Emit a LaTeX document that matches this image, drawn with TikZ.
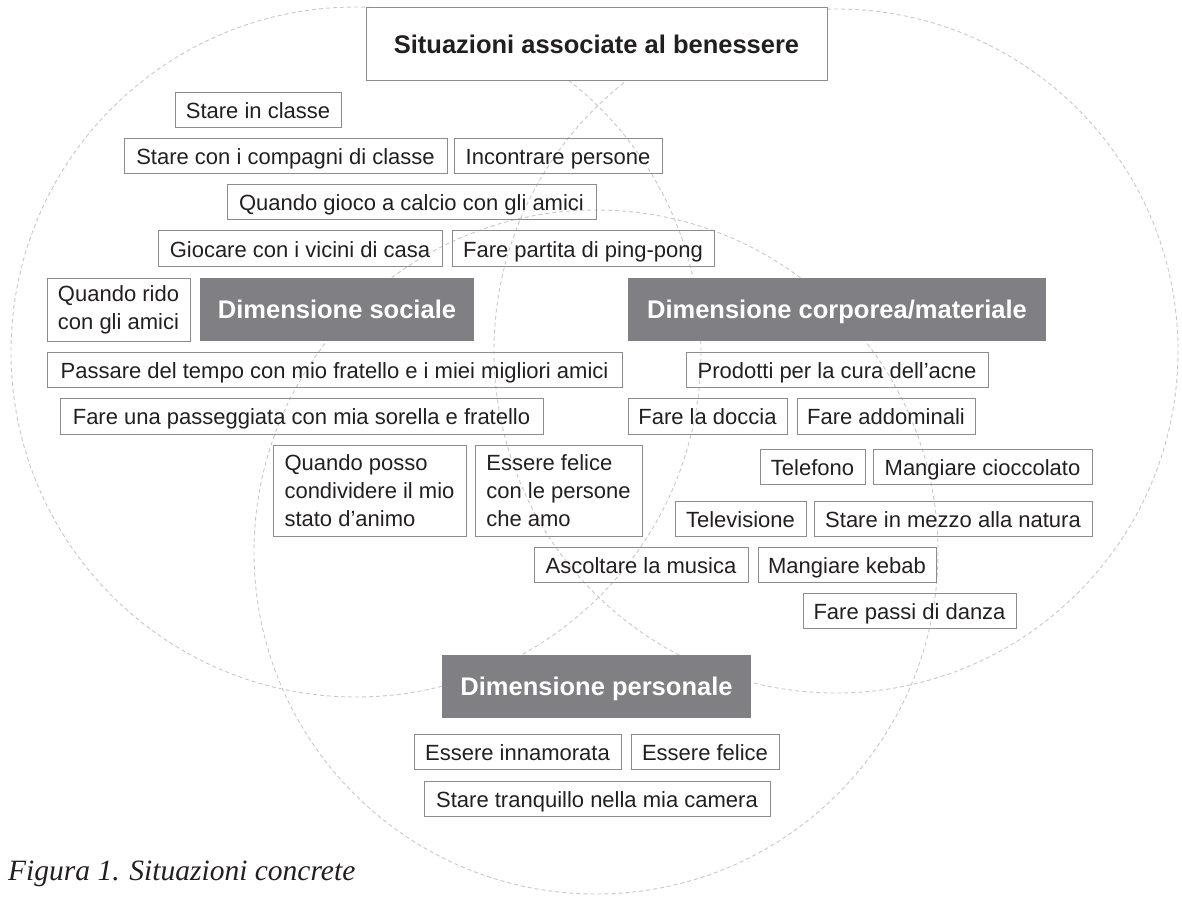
\documentclass[tikz,border=0pt]{standalone}
\usepackage{fontspec}
\setmainfont{Liberation Sans}
\newfontfamily\capfont{Liberation Serif}
\definecolor{txt}{RGB}{35,31,32}
\definecolor{bordergray}{RGB}{140,140,140}
\definecolor{darkfill}{RGB}{128,128,132}
\definecolor{circlegray}{RGB}{200,200,200}
\begin{document}
\begin{tikzpicture}[x=1pt,y=-1pt,
  venn/.style={draw=circlegray, line width=0.9pt, dash pattern=on 4pt off 3pt},
  item/.style={draw=bordergray, line width=1pt, inner sep=0pt, text=txt,
    font=\fontsize{22}{28}\selectfont, minimum height=35pt,
    text height=17pt, text depth=0pt},
  multi/.style={draw=bordergray, line width=1pt, inner sep=0pt, text=txt,
    font=\fontsize{22}{28}\selectfont, align=left},
  dim/.style={fill=darkfill, inner sep=0pt, text=white,
    font=\bfseries\fontsize{25.5}{30}\selectfont, minimum height=63pt,
    text height=18.5pt, text depth=0pt},
  titlebox/.style={draw=bordergray, fill=white, line width=1pt, inner sep=0pt,
    text=txt, font=\bfseries\fontsize{25.5}{30}\selectfont,
    text height=18.5pt, text depth=0pt},
  caption/.style={text=txt, inner sep=0pt, anchor=base west,
    font=\capfont\itshape\fontsize{29.5}{34}\selectfont}
]
\useasboundingbox (0,0) rectangle (1182,901);

% three dashed circles
\draw[venn] (356,352) circle[radius=345];
\draw[venn] (836,351) circle[radius=342];
\draw[venn] (596,552) circle[radius=342];

% title
\node[titlebox, minimum width=461pt, minimum height=73pt] (title) at (596.5,44.5) {Situazioni associate al benessere};

% dimension boxes
\node[dim, minimum width=274pt] (sociale) at (337,309.5) {Dimensione sociale};
\node[dim, minimum width=418pt] (corporea) at (837,309.5) {Dimensione corporea/materiale};
\node[dim, minimum width=309pt] (personale) at (596.5,686.5) {Dimensione personale};

% social items
\node[item, minimum width=166pt] (classe) at (258,110.5) {Stare in classe};
\node[item, minimum width=323pt] (compagni) at (285.5,156) {Stare con i compagni di classe};
\node[item, minimum width=208pt] (incontrare) at (558,156) {Incontrare persone};
\node[item, minimum width=369pt] (calcio) at (411.5,202.5) {Quando gioco a calcio con gli amici};
\node[item, minimum width=284pt] (vicini) at (300,248.5) {Giocare con i vicini di casa};
\node[item, minimum width=262pt] (ping) at (583,248.5) {Fare partita di ping-pong};
\node[multi, minimum width=143pt, minimum height=63pt] (rido) at (118.5,310) {Quando rido\\con gli amici};
\node[item, minimum width=575pt] (passare) at (334.5,369.5) {Passare del tempo con mio fratello e i miei migliori amici};
\node[item, minimum width=483pt, minimum height=36pt] (passeggiata) at (301.5,416) {Fare una passeggiata con mia sorella e fratello};
\node[multi, minimum width=193pt, minimum height=91pt] (condividere) at (369.5,490.5) {Quando posso\\condividere il mio\\stato d’animo};
\node[multi, minimum width=167pt, minimum height=91pt] (felicecon) at (558.5,490.5) {Essere felice\\con le persone\\che amo};
\node[item, minimum width=214pt] (musica) at (641,564.5) {Ascoltare la musica};

% body/material items
\node[item, minimum width=302pt] (acne) at (837,369.5) {Prodotti per la cura dell’acne};
\node[item, minimum width=159pt, minimum height=36pt] (doccia) at (707.5,416) {Fare la doccia};
\node[item, minimum width=178pt, minimum height=36pt] (addominali) at (886,416) {Fare addominali};
\node[item, minimum width=105pt] (telefono) at (812.5,466.5) {Telefono};
\node[item, minimum width=219pt] (cioccolato) at (982.5,466.5) {Mangiare cioccolato};
\node[item, minimum width=131pt] (televisione) at (740.5,518.5) {Televisione};
\node[item, minimum width=278pt] (natura) at (953,518.5) {Stare in mezzo alla natura};
\node[item, minimum width=178pt] (kebab) at (847,564.5) {Mangiare kebab};
\node[item, minimum width=213pt] (danza) at (909.5,610.5) {Fare passi di danza};

% personal items
\node[item, minimum width=207pt] (innamorata) at (517.5,751.5) {Essere innamorata};
\node[item, minimum width=148pt] (felice) at (705,751.5) {Essere felice};
\node[item, minimum width=346pt] (tranquillo) at (597,798.5) {Stare tranquillo nella mia camera};

% caption
\node[caption] (cap) at (8,880) {Figura 1. Situazioni concrete};
\end{tikzpicture}
\end{document}
